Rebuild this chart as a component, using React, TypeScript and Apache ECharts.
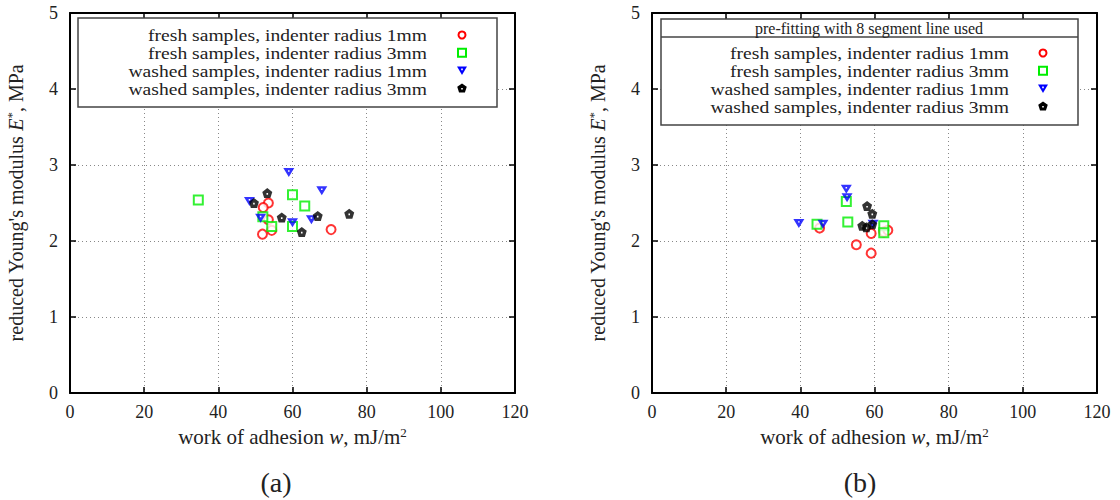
import React, { useEffect, useRef } from "react";
import * as echarts from "echarts";

// Panel (a)
const aFresh1x = [53.5, 52.1, 53.5, 54.4, 51.9, 70.4];
const aFresh1y = [2.5, 2.44, 2.28, 2.14, 2.09, 2.15];
const aFresh3x = [34.6, 60.0, 63.3, 52.0, 54.4, 60.0];
const aFresh3y = [2.54, 2.61, 2.46, 2.32, 2.19, 2.19];
const aWashed1x = [59.0, 67.9, 48.4, 51.4, 60.0, 65.1];
const aWashed1y = [2.9, 2.66, 2.52, 2.3, 2.24, 2.28];
const aWashed3x = [53.2, 49.6, 57.1, 66.8, 75.3, 62.5];
const aWashed3y = [2.63, 2.5, 2.31, 2.33, 2.36, 2.12];

// Panel (b)
const bFresh1x = [45.2, 55.1, 59.1, 59.1, 62.5, 63.6];
const bFresh1y = [2.17, 1.95, 2.1, 1.84, 2.12, 2.14];
const bFresh3x = [44.5, 52.4, 52.8, 62.5, 62.5];
const bFresh3y = [2.22, 2.52, 2.25, 2.2, 2.11];
const bWashed1x = [39.6, 46.1, 52.4, 52.6, 59.6];
const bWashed1y = [2.23, 2.22, 2.68, 2.57, 2.22];
const bWashed3x = [58.0, 59.4, 56.7, 57.8, 59.4];
const bWashed3y = [2.46, 2.36, 2.2, 2.18, 2.22];

const legendLabels = [
  "fresh samples, indenter radius 1mm",
  "fresh samples, indenter radius 3mm",
  "washed samples, indenter radius 1mm",
  "washed samples, indenter radius 3mm",
];
const legendHeader = "pre-fitting with 8 segment line used";
const panelLabels = ["(a)", "(b)"];

const FONT = "Liberation Serif";
const PENT =
  "path://M0,-1 L0.951,-0.309 L0.588,0.809 L-0.588,0.809 L-0.951,-0.309 Z M-0.15,-0.12 L-0.15,0.18 L0.15,0.18 L0.15,-0.12 Z";
const TRI = "path://M-1,-0.85 L1,-0.85 L0,0.85 Z M-0.14,-0.45 L-0.14,-0.17 L0.14,-0.17 L0.14,-0.45 Z";

const zip = (xs: number[], ys: number[]) => xs.map((x, i) => [x, ys[i]]);

const styles = [
  { symbol: "circle", symbolSize: 9, itemStyle: { color: "#ffffff", borderColor: "#ff0000", borderWidth: 2 } },
  { symbol: "rect", symbolSize: 9, itemStyle: { color: "#ffffff", borderColor: "#00ee00", borderWidth: 2 } },
  { symbol: TRI, symbolSize: [11, 9], itemStyle: { color: "#0000ff", borderWidth: 0 } },
  { symbol: PENT, symbolSize: 10, itemStyle: { color: "#000000", borderWidth: 0 } },
];

function legendMarker(i: number, cx: number, cy: number): any[] {
  if (i === 0) return [{ type: "circle", shape: { cx, cy, r: 3.5 }, style: { fill: "#fff", stroke: "#ff0000", lineWidth: 2 } }];
  if (i === 1)
    return [{ type: "rect", shape: { x: cx - 4, y: cy - 4, width: 8, height: 8 }, style: { fill: "#fff", stroke: "#00ee00", lineWidth: 2 } }];
  if (i === 2)
    return [
      { type: "polygon", shape: { points: [[cx - 5, cy - 4], [cx + 5, cy - 4], [cx, cy + 4.5]] }, style: { fill: "#0000ff" } },
      { type: "rect", shape: { x: cx - 0.8, y: cy - 2, width: 1.6, height: 1.6 }, style: { fill: "#fff" } },
    ];
  const r = 5;
  const pts = [0, 1, 2, 3, 4].map((k) => {
    const a = -Math.PI / 2 + (k * 2 * Math.PI) / 5;
    return [cx + r * Math.cos(a), cy + r * Math.sin(a)];
  });
  return [
    { type: "polygon", shape: { points: pts }, style: { fill: "#000" } },
    { type: "rect", shape: { x: cx - 0.8, y: cy - 0.5, width: 1.6, height: 1.6 }, style: { fill: "#fff" } },
  ];
}

export default function App() {
  const ref = useRef<HTMLDivElement>(null);
  useEffect(() => {
    document.body.style.margin = "0";
    const chart = echarts.init(ref.current!, null, { renderer: "svg" });
    const grids = [
      { left: 70, top: 13, width: 445, height: 380 },
      { left: 652, top: 13, width: 445, height: 380 },
    ];
    const frameAxis = { show: true, onZero: false, lineStyle: { color: "#000", width: 2 } };
    const tick = { show: true, inside: true, length: 6, lineStyle: { color: "#000", width: 1.5 } };
    const grid = { show: true, lineStyle: { color: "#888", type: [1, 3], width: 1 } };
    const xAxes: any[] = [];
    const yAxes: any[] = [];
    grids.forEach((_, g) => {
      xAxes.push({
        type: "value", gridIndex: g, min: 0, max: 120, interval: 20, position: "bottom",
        name: "{n|work of adhesion }{i|w}{n|, mJ/m}{s|2}",
        nameLocation: "middle", nameGap: 29,
        nameTextStyle: {
          rich: {
            n: { fontFamily: FONT, fontSize: 21, color: "#222" },
            i: { fontFamily: FONT, fontSize: 21, fontStyle: "italic", color: "#222" },
            s: { fontFamily: FONT, fontSize: 13, color: "#222", verticalAlign: "top", padding: [0, 0, 9, 0] },
          },
        },
        axisLine: frameAxis,
        axisTick: tick,
        axisLabel: { fontFamily: FONT, fontSize: 18, color: "#222", margin: 10 },
        splitLine: grid,
      });
      xAxes.push({
        type: "value", gridIndex: g, min: 0, max: 120, interval: 20, position: "top",
        axisLine: frameAxis, axisTick: tick, axisLabel: { show: false }, splitLine: { show: false },
      });
      yAxes.push({
        type: "value", gridIndex: g, min: 0, max: 5, interval: 1, position: "left",
        name: "{n|reduced Young's modulus }{i|E}{s|*}{n|, MPa}",
        nameLocation: "middle", nameGap: 43,
        nameTextStyle: {
          rich: {
            n: { fontFamily: FONT, fontSize: 20, color: "#222" },
            i: { fontFamily: FONT, fontSize: 20, fontStyle: "italic", color: "#222" },
            s: { fontFamily: FONT, fontSize: 13, color: "#222", verticalAlign: "top", padding: [0, 0, 9, 0] },
          },
        },
        axisLine: frameAxis,
        axisTick: tick,
        axisLabel: { fontFamily: FONT, fontSize: 18, color: "#222", margin: 12 },
        splitLine: grid,
      });
      yAxes.push({
        type: "value", gridIndex: g, min: 0, max: 5, interval: 1, position: "right",
        axisLine: frameAxis, axisTick: tick, axisLabel: { show: false }, splitLine: { show: false },
      });
    });

    const panelData = [
      [zip(aFresh1x, aFresh1y), zip(aFresh3x, aFresh3y), zip(aWashed1x, aWashed1y), zip(aWashed3x, aWashed3y)],
      [zip(bFresh1x, bFresh1y), zip(bFresh3x, bFresh3y), zip(bWashed1x, bWashed1y), zip(bWashed3x, bWashed3y)],
    ];
    const series: any[] = [];
    panelData.forEach((sets, g) => {
      sets.forEach((data, i) => {
        series.push({
          type: "scatter", name: legendLabels[i], xAxisIndex: g * 2, yAxisIndex: g * 2, data,
          ...styles[i],
        });
      });
    });

    const legendText = (t: string, x: number, y: number) => ({
      type: "text", x, y, scaleX: 1.12, z: 101,
      style: { text: t, fontFamily: FONT, fontSize: 17.5, fill: "#222", align: "right", verticalAlign: "middle" },
    });

    const graphic: any[] = [];
    // legend (a)
    graphic.push({ type: "rect", shape: { x: 78, y: 18, width: 419, height: 89 }, style: { fill: "#fff", stroke: "#444", lineWidth: 1.5 }, z: 100 });
    legendLabels.forEach((t, i) => {
      const cy = 35 + i * 17.8;
      graphic.push(legendText(t, 427, cy));
      legendMarker(i, 462, cy).forEach((m) => graphic.push({ ...m, z: 101 }));
    });
    // legend (b)
    graphic.push({ type: "rect", shape: { x: 661, y: 19, width: 417, height: 106 }, style: { fill: "#fff", stroke: "#444", lineWidth: 1.5 }, z: 100 });
    graphic.push({ type: "line", shape: { x1: 661, y1: 37, x2: 1078, y2: 37 }, style: { stroke: "#444", lineWidth: 1.5 }, z: 101 });
    graphic.push({ type: "text", x: 869, y: 28, style: { text: legendHeader, fontFamily: FONT, fontSize: 16, fill: "#222", align: "center", verticalAlign: "middle" }, z: 101 });
    legendLabels.forEach((t, i) => {
      const cy = 53 + i * 17.8;
      graphic.push(legendText(t, 1009, cy));
      legendMarker(i, 1043, cy).forEach((m) => graphic.push({ ...m, z: 101 }));
    });
    // subfigure labels
    graphic.push({ type: "text", x: 276, y: 482, style: { text: panelLabels[0], fontFamily: FONT, fontSize: 28, fill: "#222", align: "center", verticalAlign: "middle" } });
    graphic.push({ type: "text", x: 860, y: 482, style: { text: panelLabels[1], fontFamily: FONT, fontSize: 28, fill: "#222", align: "center", verticalAlign: "middle" } });

    chart.setOption({
      animation: false,
      backgroundColor: "#fff",
      grid: grids,
      xAxis: xAxes,
      yAxis: yAxes,
      series,
      graphic,
    });
    return () => chart.dispose();
  }, []);
  return <div ref={ref} style={{ width: 1120, height: 500 }} />;
}
